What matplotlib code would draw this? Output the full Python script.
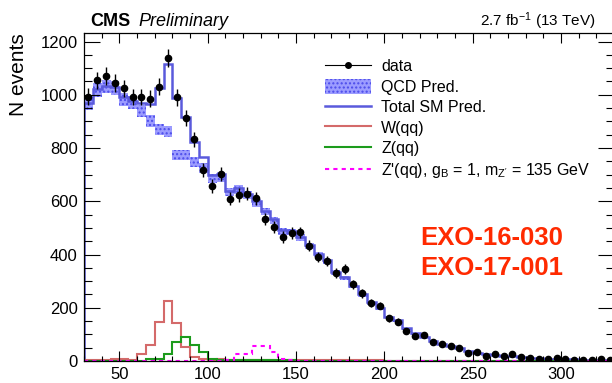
import numpy as np
import matplotlib
matplotlib.use("Agg")
import matplotlib.pyplot as plt
from matplotlib.lines import Line2D
from matplotlib.patches import Patch
from matplotlib.ticker import MultipleLocator

plt.rcParams['font.family'] = ['Liberation Sans', 'DejaVu Sans']
plt.rcParams['mathtext.fontset'] = 'custom'
plt.rcParams['mathtext.rm'] = 'Liberation Sans'
plt.rcParams['mathtext.it'] = 'Liberation Sans:italic'
plt.rcParams['hatch.linewidth'] = 1.0

# 5 GeV bins, 30 - 330 GeV
edges = np.arange(30, 335, 5)
centres = edges[:-1] + 2.5

data = [993, 1054, 1071, 1044, 1025, 992, 992, 985, 1030, 1138,
        991, 912, 833, 718, 658, 704, 610, 624, 628, 611,
        534, 503, 465, 482, 483, 433, 391, 376, 330, 346,
        289, 254, 217, 208, 160, 148, 114, 95, 99, 73,
        64, 56, 48, 29, 35, 19, 25, 19, 25, 16,
        12, 8, 8, 10, 8, 3, 4, 3, 6, 4]

qcd = [968, 1018, 1031, 1025, 984, 972, 940, 900, 870, 862,
       775, 775, 749, 725, 685, 691, 634, 644, 623, 595,
       561, 526, 487, 485, 464, 433, 400, 375, 332, 312,
       280, 247, 217, 197, 165, 151, 121, 102, 90, 74,
       63, 54, 45, 35, 31, 25, 22, 19, 17, 14,
       12, 10, 9, 8, 7, 6, 5, 5, 4, 4]

w_qq = [2, 3, 3, 6, 8, 4, 27, 60, 148, 227,
        143, 53, 16, 9, 5, 8, 4, 3, 3, 3,
        2, 4, 3, 2, 2, 2, 2, 2, 2, 2,
        2, 2, 2, 2, 1, 1, 1, 1, 1, 1,
        1, 1, 1, 1, 0, 0, 0, 0, 0, 0,
        0, 0, 0, 0, 0, 0, 0, 0, 0, 0]

z_qq = [0, 0, 0, 0, 0, 0, 1, 7, 7, 28,
        70, 90, 59, 32, 8, 3, 2, 2, 2, 2,
        2, 2, 2, 2, 1, 1, 1, 1, 1, 1,
        1, 1, 1, 1, 1, 1, 1, 1, 1, 1,
        1, 1, 1, 1, 0, 0, 0, 0, 0, 0,
        0, 0, 0, 0, 0, 0, 0, 0, 0, 0]

zprime = [0, 0, 0, 0, 0, 0, 0, 0, 0, 0,
          0, 0, 0, 0, 0, 1, 3, 26, 26, 57,
          56, 34, 8, 2, 0, 0, 0, 0, 0, 0,
          0, 0, 0, 0, 0, 0, 0, 0, 0, 0,
          0, 0, 0, 0, 0, 0, 0, 0, 0, 0,
          0, 0, 0, 0, 0, 0, 0, 0, 0, 0]

qcd_unc = 0.025  # relative size of the QCD band

qcd = np.array(qcd, dtype=float)
total = qcd + np.array(w_qq) + np.array(z_qq)

fig = plt.figure(figsize=(6.12, 3.83), dpi=100)
ax = fig.add_axes([84 / 612, 22 / 383, 530 / 612, 327.7 / 383])

band_fc = '#9c9cff'
band_hc = '#4b4bea'
ax.stairs(qcd * (1 + qcd_unc), edges, baseline=qcd * (1 - qcd_unc), fill=True,
          facecolor=band_fc, edgecolor=band_hc, hatch='....', lw=0)
ax.stairs(total, edges, color='#5a5adc', lw=1.8)
ax.stairs(w_qq, edges, color='#d46a6a', lw=1.5)
ax.stairs(z_qq, edges, color='#1c9b1c', lw=1.5)
ax.stairs(zprime, edges, color='#ff00ff', lw=1.5, ls=(0, (2, 2)))
ax.errorbar(centres, data, yerr=np.sqrt(data), fmt='o', color='black',
            ms=4.5, elinewidth=1, capsize=0)

ax.set_xlim(30, 330)
ax.set_ylim(0, 1231)
ax.xaxis.set_major_locator(MultipleLocator(50))
ax.xaxis.set_minor_locator(MultipleLocator(10))
ax.yaxis.set_major_locator(MultipleLocator(200))
ax.yaxis.set_minor_locator(MultipleLocator(50))
ax.tick_params(which='both', direction='in', top=True, right=True, width=0.8,
               labelsize=12)
ax.tick_params(axis='x', which='major', length=7.2, pad=4)
ax.tick_params(axis='x', which='minor', length=3.6)
ax.tick_params(axis='y', which='major', length=11.5, pad=4.5)
ax.tick_params(axis='y', which='minor', length=5.8)
for s in ax.spines.values():
    s.set_linewidth(0.9)

ax.set_ylabel('N events', fontsize=15, loc='top')
ax.yaxis.set_label_coords(-0.105, 1.0)

handles = [
    Line2D([], [], color='black', lw=0.8, marker='o', ms=4),
    Patch(facecolor=band_fc, edgecolor=band_hc, hatch='....', lw=0),
    Line2D([], [], color='#5a5adc', lw=1.8),
    Line2D([], [], color='#d46a6a', lw=1.5),
    Line2D([], [], color='#1c9b1c', lw=1.5),
    Line2D([], [], color='#ff00ff', lw=1.5, ls=(0, (2, 2))),
]
labels = ['data', 'QCD Pred.', 'Total SM Pred.', 'W(qq)', 'Z(qq)',
          "Z'(qq), g$_\\mathregular{B}$ = 1, m$_\\mathregular{Z'}$ = 135 GeV"]
ax.legend(handles, labels, loc='upper left', bbox_to_anchor=(0.455, 0.922),
          frameon=False, fontsize=11.5, handlelength=2.9, handleheight=1.0,
          handletextpad=0.6, labelspacing=0.3, borderpad=0, borderaxespad=0)

fig.text(90 / 612, 1 - 26 / 383, 'CMS', fontsize=13, fontweight='bold')
fig.text(138 / 612, 1 - 26 / 383, 'Preliminary', fontsize=13, style='italic')
fig.text(596 / 612, 1 - 26 / 383, '2.7 fb$^{\\mathregular{-1}}$ (13 TeV)',
         fontsize=11, ha='right')

ax.text(220.5, 436, 'EXO-16-030', color='#ff2a00', fontsize=18.5,
        fontweight='bold')
ax.text(220.5, 323, 'EXO-17-001', color='#ff2a00', fontsize=18.5,
        fontweight='bold')

fig.savefig('out.png', dpi=100)
